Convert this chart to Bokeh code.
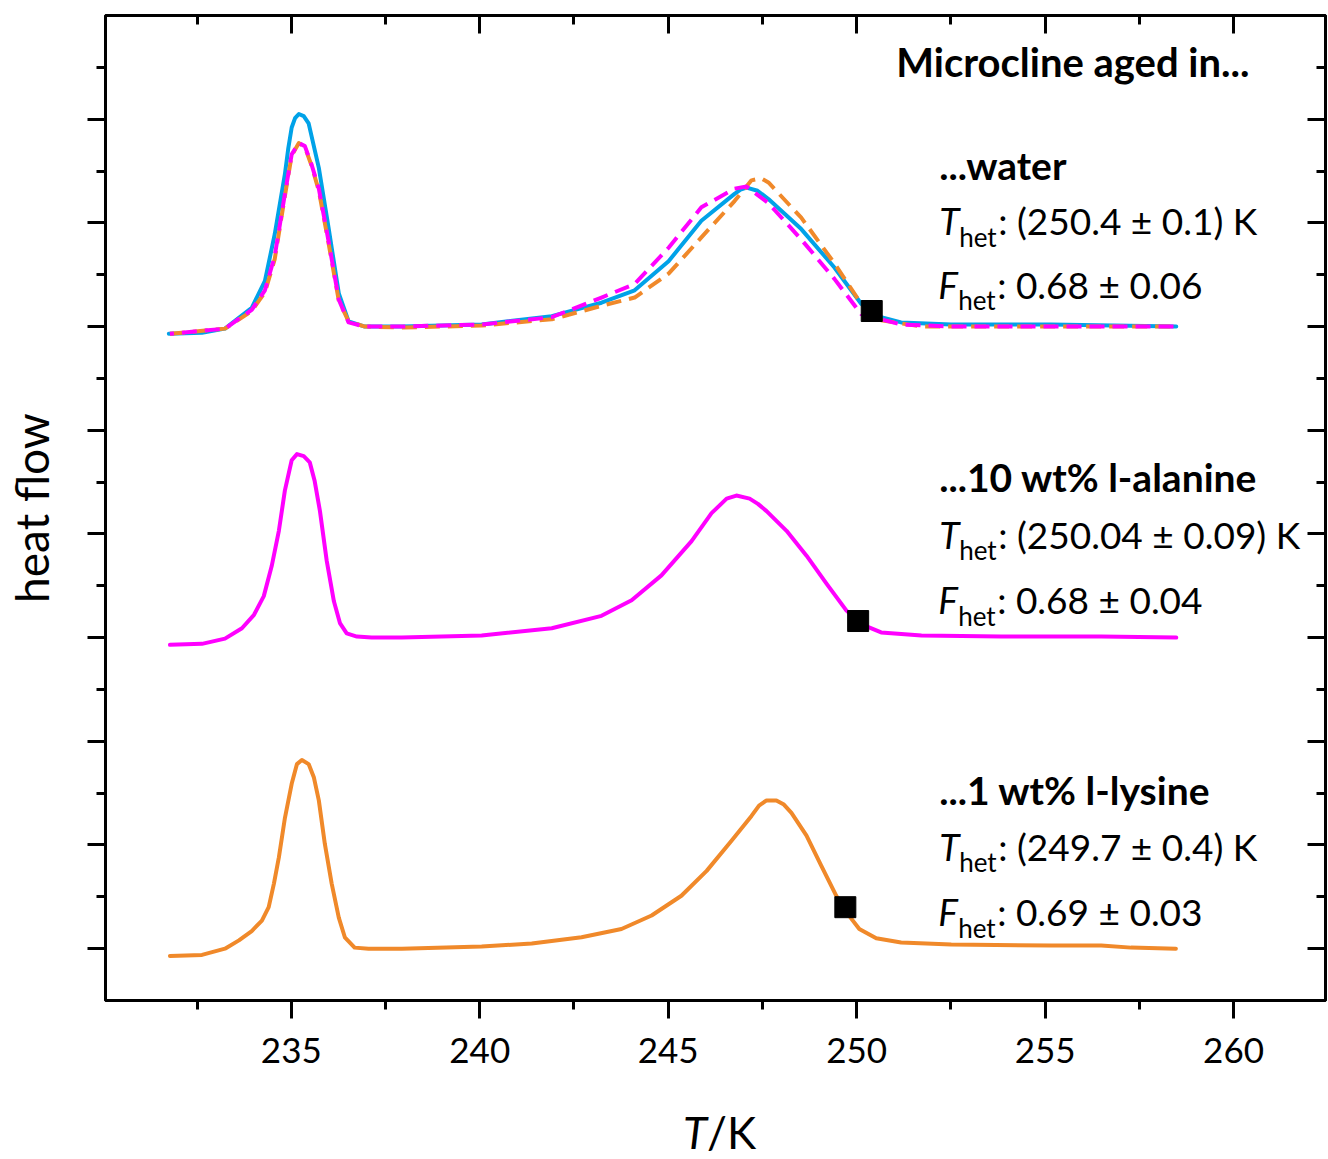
from bokeh.plotting import figure
from bokeh.models import LinearAxis, FixedTicker, Range1d, Div
from bokeh.layouts import column
from bokeh.core.properties import value
from bokeh.embed import file_html
from bokeh.resources import INLINE

# ---------------- data ----------------
x_major = [235, 240, 245, 250, 255, 260]
x_minor = [232.5, 237.5, 242.5, 247.5, 252.5, 257.5]
y_major = [0, 1, 2, 3, 4, 5, 6, 7, 8]
y_minor = [0.5, 1.5, 2.5, 3.5, 4.5, 5.5, 6.5, 7.5, 8.5]

# ...1 wt% l-lysine (orange, offset 0)
lysine_T = [231.78, 232.63, 233.24, 233.61, 233.95, 234.22, 234.40, 234.54, 234.67, 234.83,
            235.01, 235.15, 235.28, 235.46, 235.60, 235.73, 235.89, 236.07, 236.26, 236.42,
            236.68, 237.05, 237.93, 240.05, 241.38, 242.70, 243.76, 244.56, 245.35, 246.02,
            246.68, 247.21, 247.41, 247.61, 247.87, 248.07, 248.27, 248.67, 249.06, 249.46,
            249.73, 250.07, 250.52, 251.18, 252.51, 255.16, 256.49, 257.28, 258.47]
lysine_y = [-0.07, -0.06, 0.00, 0.08, 0.17, 0.27, 0.40, 0.63, 0.88, 1.26,
            1.59, 1.78, 1.82, 1.78, 1.65, 1.43, 1.01, 0.63, 0.30, 0.11,
            0.01, 0.00, 0.00, 0.02, 0.05, 0.11, 0.19, 0.32, 0.51, 0.75,
            1.04, 1.28, 1.38, 1.43, 1.43, 1.39, 1.31, 1.09, 0.80, 0.51,
            0.35, 0.19, 0.10, 0.06, 0.04, 0.03, 0.03, 0.01, 0.00]

# ...10 wt% l-alanine (magenta, offset 3)
alanine_T = [231.78, 232.63, 233.24, 233.69, 234.01, 234.27, 234.48, 234.67, 234.83, 235.01,
             235.15, 235.33, 235.49, 235.62, 235.76, 235.94, 236.13, 236.29, 236.47, 236.74,
             237.13, 237.93, 240.05, 241.91, 243.23, 244.03, 244.82, 245.62, 246.15, 246.55,
             246.81, 247.16, 247.38, 247.61, 248.14, 248.67, 249.20, 249.73, 250.12, 250.65,
             251.72, 253.84, 256.49, 258.48]
alanine_y = [2.93, 2.94, 2.99, 3.09, 3.22, 3.40, 3.69, 4.03, 4.42, 4.71,
             4.77, 4.75, 4.69, 4.51, 4.22, 3.74, 3.35, 3.14, 3.04, 3.01,
             3.00, 3.00, 3.02, 3.09, 3.21, 3.36, 3.60, 3.93, 4.20, 4.34,
             4.37, 4.34, 4.29, 4.22, 4.03, 3.79, 3.52, 3.26, 3.13, 3.05,
             3.02, 3.01, 3.01, 3.00]

# ...water (blue solid, offset 6)
water_T = [231.75, 232.63, 233.24, 233.95, 234.30, 234.56, 234.83, 234.92, 235.01, 235.10,
           235.20, 235.33, 235.46, 235.73, 235.99, 236.26, 236.52, 236.95, 237.93, 240.05,
           241.91, 243.23, 244.11, 245.01, 245.88, 246.76, 246.92, 247.08, 247.37, 247.66,
           248.53, 249.41, 250.12, 250.65, 251.18, 252.51, 255.16, 258.48]
water_y = [5.93, 5.94, 5.98, 6.18, 6.44, 6.89, 7.47, 7.72, 7.92, 8.01,
           8.05, 8.03, 7.96, 7.53, 6.95, 6.32, 6.05, 6.00, 6.00, 6.02,
           6.10, 6.23, 6.35, 6.63, 7.02, 7.28, 7.32, 7.34, 7.31, 7.23,
           6.94, 6.57, 6.22, 6.09, 6.04, 6.02, 6.02, 6.00]

# lysine-aged curve drawn dashed on the water panel
water_lys_T = [231.78, 233.24, 233.95, 234.30, 234.56, 234.83, 235.01, 235.20, 235.36, 235.54,
               235.73, 235.99, 236.26, 236.52, 236.95, 237.93, 240.05, 241.91, 243.23, 244.11,
               245.01, 245.88, 246.76, 247.21, 247.47, 247.66, 248.53, 249.41, 250.12, 250.65,
               251.72, 253.84, 258.48]
water_lys_y = [5.93, 5.98, 6.15, 6.33, 6.65, 7.26, 7.65, 7.77, 7.73, 7.55,
               7.31, 6.80, 6.25, 6.05, 6.00, 5.99, 6.01, 6.07, 6.20, 6.28,
               6.51, 6.86, 7.21, 7.41, 7.43, 7.39, 7.05, 6.61, 6.22, 6.06,
               6.00, 6.00, 6.00]

# alanine-aged curve drawn dashed on the water panel
water_ala_T = [231.78, 233.24, 233.95, 234.30, 234.56, 234.83, 235.01, 235.20, 235.36, 235.54,
               235.73, 235.99, 236.26, 236.52, 236.95, 237.93, 240.05, 241.91, 243.23, 244.11,
               245.01, 245.88, 246.76, 247.08, 247.66, 248.53, 249.41, 250.12, 251.18, 252.51,
               258.48]
water_ala_y = [5.93, 5.98, 6.16, 6.35, 6.68, 7.28, 7.66, 7.77, 7.74, 7.56,
               7.33, 6.82, 6.26, 6.04, 6.00, 6.00, 6.02, 6.09, 6.28, 6.41,
               6.76, 7.15, 7.33, 7.35, 7.19, 6.84, 6.46, 6.12, 6.02, 6.00,
               6.00]

# T_het markers
het_T = [250.4, 250.04, 249.7]
het_y = [6.15, 3.16, 0.40]

title_text = "Microcline aged in..."
group_names = ["...water", "...10 wt% l-alanine", "...1 wt% l-lysine"]
thet_texts = [": (250.4 \u00b1 0.1) K", ": (250.04 \u00b1 0.09) K", ": (249.7 \u00b1 0.4) K"]
fhet_texts = [": 0.68 \u00b1 0.06", ": 0.68 \u00b1 0.04", ": 0.69 \u00b1 0.03"]

BLUE = "#00A2E8"
MAGENTA = "#FF00FF"
ORANGE = "#F0892A"
FONT = "Lato"
PX_PER_UNIT = 103.7   # vertical pixels per data unit (frame 985 px over 9.5 units)

# ---------------- figure ----------------
p = figure(width=1328, height=1100,
           x_range=Range1d(230.07, 262.44), y_range=Range1d(-0.5, 9.0),
           output_backend="svg", toolbar_location=None,
           min_border_left=104, min_border_right=3, min_border_top=15, min_border_bottom=100,
           background_fill_color="white", border_fill_color="white")
p.xgrid.visible = False
p.ygrid.visible = False
p.outline_line_color = "black"
p.outline_line_width = 3

xt = FixedTicker(ticks=x_major, minor_ticks=x_minor)
yt = FixedTicker(ticks=y_major, minor_ticks=y_minor)

def style_axis(ax, inward, show_labels):
    ax.axis_line_width = 3
    ax.axis_line_color = "black"
    ax.major_tick_line_width = 3
    ax.minor_tick_line_width = 3
    ax.major_tick_line_color = "black"
    ax.minor_tick_line_color = "black"
    if inward:
        ax.major_tick_in, ax.major_tick_out = 18, 0
        ax.minor_tick_in, ax.minor_tick_out = 9, 0
    else:
        ax.major_tick_in, ax.major_tick_out = 0, 18
        ax.minor_tick_in, ax.minor_tick_out = 0, 9
    if not show_labels:
        ax.major_label_text_font_size = "0px"
        ax.major_label_standoff = 0

xa = p.xaxis[0]
xa.ticker = xt
style_axis(xa, False, True)
xa.major_label_text_font = FONT
xa.major_label_text_font_size = "35px"
xa.major_label_text_color = "black"
xa.major_label_standoff = 19

ya = p.yaxis[0]
ya.ticker = yt
style_axis(ya, False, False)
ya.major_label_overrides = {t: "" for t in y_major}
ya.axis_label = "heat flow"
ya.axis_label_text_font = FONT
ya.axis_label_text_font_size = "46px"
ya.axis_label_text_font_style = "normal"
ya.axis_label_text_color = "black"
ya.axis_label_standoff = 29

top = LinearAxis(ticker=FixedTicker(ticks=x_major, minor_ticks=x_minor))
style_axis(top, True, False)
top.major_label_overrides = {t: "" for t in x_major}
p.add_layout(top, "above")

right = LinearAxis(ticker=FixedTicker(ticks=y_major, minor_ticks=y_minor))
style_axis(right, True, False)
right.major_label_overrides = {t: "" for t in y_major}
p.add_layout(right, "right")

# ---------------- curves ----------------
p.line(lysine_T, lysine_y, line_color=ORANGE, line_width=4, line_join="round", line_cap="round")
p.line(alanine_T, alanine_y, line_color=MAGENTA, line_width=4, line_join="round", line_cap="round")
p.line(water_T, water_y, line_color=BLUE, line_width=4, line_join="round", line_cap="round")
p.line(water_lys_T, water_lys_y, line_color=ORANGE, line_width=4, line_dash="15 8", line_join="round")
p.line(water_ala_T, water_ala_y, line_color=MAGENTA, line_width=4, line_dash="15 8",
       line_dash_offset=11, line_join="round")

p.scatter(het_T, het_y, marker="square", size=21, color="black")

# ---------------- texts ----------------
def txt(x, y, s, size, style="normal", xoff=0):
    # y is the wanted baseline; compensate for the renderer's baseline placement
    yy = y + 0.39 * size / PX_PER_UNIT
    p.text(x=[x], y=[yy], text=[s], text_font=value(FONT), text_font_size=value(f"{size}px"),
           text_font_style=style, text_color="black", text_baseline="alphabetic",
           text_align="left", x_offset=xoff)

TX = 252.19          # left edge of the text blocks
txt(251.05, 8.40, title_text, 40, "bold")
name_y = [7.41, 4.40, 1.38]
thet_y = [6.88, 3.86, 0.85]
fhet_y = [6.27, 3.23, 0.22]
SUB = 12 / PX_PER_UNIT
for i in range(3):
    txt(TX, name_y[i], group_names[i], 39, "bold")
    txt(TX, thet_y[i], "T", 37, "italic")
    txt(TX, thet_y[i] - SUB, "het", 26, "normal", 20)
    txt(TX, thet_y[i], thet_texts[i], 37, "normal", 59)
    txt(TX, fhet_y[i], "F", 37, "italic", -1)
    txt(TX, fhet_y[i] - SUB, "het", 26, "normal", 19)
    txt(TX, fhet_y[i], fhet_texts[i], 37, "normal", 58)

# x axis title  T/K  (T italic), placed under the plot as HTML text
xlabel = Div(text="<i>T</i>/K", width=1328, height=59,
             styles={"font-family": "Lato", "font-size": "44px", "line-height": "1.2",
                     "color": "black", "padding-left": "683px", "padding-top": "6px",
                     "box-sizing": "border-box", "margin": "0"})

layout = column(p, xlabel, spacing=0)
open("out.html", "w").write(file_html(layout, INLINE))
